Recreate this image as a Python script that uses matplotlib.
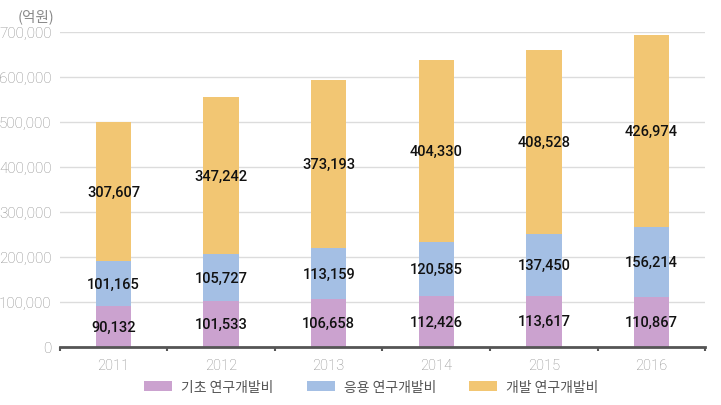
import numpy as np
import matplotlib.pyplot as plt
from matplotlib.ticker import FuncFormatter, FixedLocator

# 데이터 (억원)
years = ["2011", "2012", "2013", "2014", "2015", "2016"]
basic = [90132, 101533, 106658, 112426, 113617, 110867]
applied = [101165, 105727, 113159, 120585, 137450, 156214]
develop = [307607, 347242, 373193, 404330, 408528, 426974]
series_names = ["기초 연구개발비", "응용 연구개발비", "개발 연구개발비"]
colors = ["#cba2cf", "#a4bfe4", "#f2c673"]

kr_font = ["Noto Sans CJK KR", "DejaVu Sans"]
num_font = ["Roboto", "DejaVu Sans"]

fig = plt.figure(figsize=(7.21, 4.06), dpi=100)
ax = fig.add_axes([0.083, 0.143, 0.895, 0.776])

x = np.arange(len(years))
w = 0.33
bottom = np.zeros(len(years))
bars = []
for vals, c in zip([basic, applied, develop], colors):
    vals = np.array(vals)
    b = ax.bar(x, vals, w, bottom=bottom, color=c, zorder=2)
    bars.append(b)
    # 값 라벨
    for xi, v, b0 in zip(x, vals, bottom):
        ax.text(xi, b0 + v / 2, f"{v:,}", ha="center", va="center",
                fontsize=10.5, family=num_font, fontweight="medium",
                color="#111111", zorder=3)
    bottom = bottom + vals

ax.set_xlim(-0.5, len(years) - 0.5)
ax.set_ylim(0, 700000)
ax.set_yticks(np.arange(0, 700001, 100000))
ax.yaxis.set_major_formatter(FuncFormatter(lambda v, p: f"{int(v):,}"))
ax.grid(axis="y", color="#dcdcdc", linewidth=1, zorder=0)

ax.set_xticks(x)
ax.set_xticklabels(years)
ax.xaxis.set_minor_locator(FixedLocator(np.arange(-0.5, len(years), 1)))
ax.tick_params(axis="x", which="major", length=0, pad=8, labelsize=10.5,
               labelcolor="#8a8a8a")
ax.tick_params(axis="x", which="minor", length=3, width=1.5, color="#555555",
               direction="out")
ax.tick_params(axis="y", length=0, pad=6, labelsize=11, labelcolor="#8a8a8a")
for lab in ax.get_xticklabels() + ax.get_yticklabels():
    lab.set_family(["Roboto", "DejaVu Sans"])
    lab.set_fontweight("light")

for s in ["top", "right", "left"]:
    ax.spines[s].set_visible(False)
ax.spines["bottom"].set_color("#555555")
ax.spines["bottom"].set_linewidth(2)
ax.spines["bottom"].set_zorder(4)

fig.text(0.024, 0.958, "(억원)", fontsize=10.5, color="#8a8a8a",
         family=kr_font, va="center", ha="left")

leg = fig.legend([b[0] for b in bars], series_names, loc="center",
                 bbox_to_anchor=(0.515, 0.045), ncol=3, frameon=False,
                 handlelength=2.0, handleheight=0.75, handletextpad=0.65,
                 columnspacing=2.4, prop={"family": kr_font, "size": 10})
for t in leg.get_texts():
    t.set_color("#555555")

fig.savefig("out.png", dpi=100)
